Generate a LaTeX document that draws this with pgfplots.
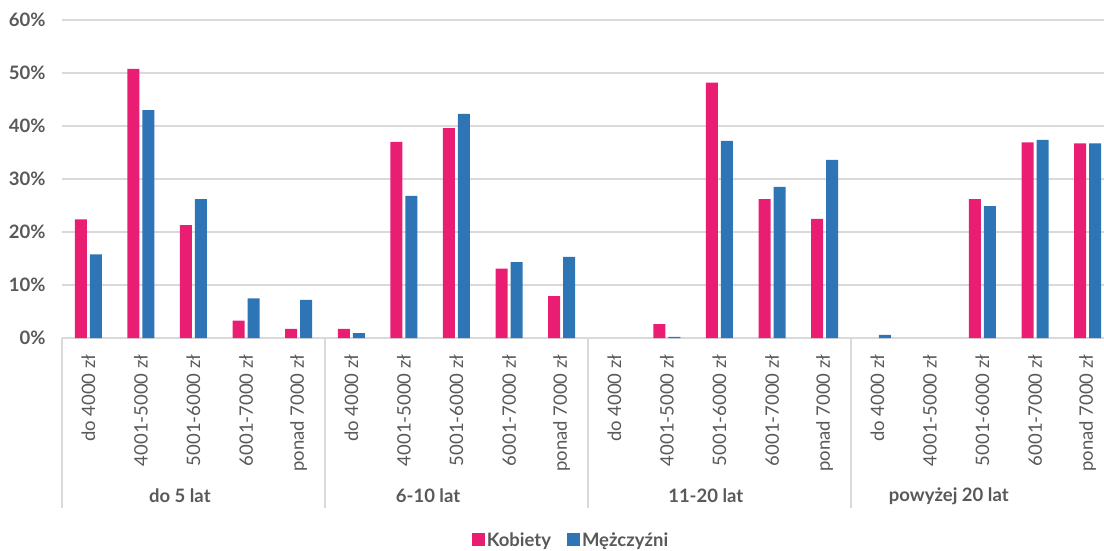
\documentclass[border=0pt]{standalone}
\usepackage{fontspec}
\setmainfont{Lato}
\usepackage{pgfplots}
\pgfplotsset{compat=1.18}
\definecolor{kob}{HTML}{E91E73}
\definecolor{mez}{HTML}{2E75B6}
\definecolor{gridc}{HTML}{D9D9D9}
\definecolor{txt}{HTML}{595959}
\newcommand{\chartfont}{\fontsize{18.5}{22}\selectfont}

\begin{document}
\begin{tikzpicture}[x=1pt,y=1pt]
\begin{axis}[
  at={(62pt,212pt)}, anchor=south west, scale only axis,
  width=1042pt, height=318pt,
  xmin=-0.5, xmax=19.31, ymin=0, ymax=60,
  enlargelimits=false, clip=false,
  axis line style={draw=none},
  /pgf/number format/assume math mode=true,
  ytick={0,10,...,60},
  yticklabel={\pgfmathprintnumber{\tick}\%},
  ymajorgrids, grid style={gridc, line width=1.3pt},
  major tick length=0pt,
  yticklabel style={font=\bfseries\chartfont, text=txt, xshift=-13pt},
  xtick={0,...,19},
  xticklabels={do 4000 zł,4001-5000 zł,5001-6000 zł,6001-7000 zł,ponad 7000 zł,
               do 4000 zł,4001-5000 zł,5001-6000 zł,6001-7000 zł,ponad 7000 zł,
               do 4000 zł,4001-5000 zł,5001-6000 zł,6001-7000 zł,ponad 7000 zł,
               do 4000 zł,4001-5000 zł,5001-6000 zł,6001-7000 zł,ponad 7000 zł},
  xticklabel style={rotate=90, anchor=east, font=\chartfont, text=txt},
  xticklabel shift={13pt},
  legend style={at={(0.4885,-0.635)}, anchor=center, draw=none, fill=none,
    legend columns=2, font=\bfseries\chartfont, text=txt,
    /tikz/every even column/.append style={column sep=14pt}},
]
% Kobiety
\addplot[ybar, bar width=12pt, bar shift=-7.5pt, fill=kob, draw=none,
  legend image code/.code={\fill[kob] (0pt,-6.5pt) rectangle (13pt,6.5pt);}]
  coordinates {(0,22.4) (1,50.8) (2,21.3) (3,3.3) (4,1.7)
               (5,1.7) (6,37.0) (7,39.6) (8,13.1) (9,7.9)
               (11,2.6) (12,48.2) (13,26.2) (14,22.5)
               (17,26.2) (18,36.9) (19,36.7)};
% Mężczyźni
\addplot[ybar, bar width=12pt, bar shift=7.5pt, fill=mez, draw=none,
  legend image code/.code={\fill[mez] (0pt,-6.5pt) rectangle (13pt,6.5pt);}]
  coordinates {(0,15.8) (1,43.0) (2,26.2) (3,7.5) (4,7.2)
               (5,0.9) (6,26.8) (7,42.3) (8,14.3) (9,15.3)
               (11,0.2) (12,37.2) (13,28.5) (14,33.6)
               (15,0.6) (17,24.9) (18,37.4) (19,36.7)};
\legend{Kobiety, Mężczyźni}
% group separators below the axis
\pgfplotsinvokeforeach{-0.5,4.5,9.5,14.5}{
  \draw[gridc, line width=1.5pt] (axis cs:#1,0) -- ++(0pt,-170pt);
}
% group labels
\node[font=\bfseries\chartfont, text=txt] at (axis cs:1.74,0) [yshift=-158pt] {do 5 lat};
\node[font=\bfseries\chartfont, text=txt] at (axis cs:6.46,0) [yshift=-158pt] {6-10 lat};
\node[font=\bfseries\chartfont, text=txt] at (axis cs:11.74,0) [yshift=-158pt] {11-20 lat};
\node[font=\bfseries\chartfont, text=txt] at (axis cs:16.36,0) [yshift=-158pt] {powyżej 20 lat};
\end{axis}
\pgfresetboundingbox
\useasboundingbox (0,0) rectangle (1104,550);
\end{tikzpicture}
\end{document}
